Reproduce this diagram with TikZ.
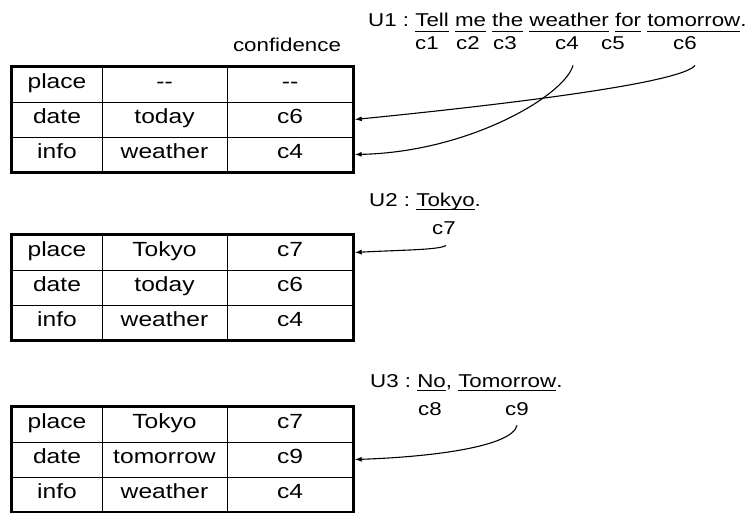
\documentclass[tikz,border=0pt]{standalone}
\usepackage{fontspec}
\usetikzlibrary{arrows.meta}
\newfontfamily\annfont[FakeStretch=1.2]{Liberation Sans}
\newcommand\ulw[2][5.5]{\setbox0\hbox{#2}\rlap{\rule[-#1pt]{\wd0}{1pt}}\box0}
\tikzset{
  cell/.style={draw, line width=0.8pt, minimum height=35pt, inner sep=0pt, text height=0.716em, text depth=0pt,
    font=\annfont\fontsize{20.5}{24}\selectfont},
  ca/.style={cell, minimum width=90pt},
  cb/.style={cell, minimum width=125pt},
  cc/.style={cell, minimum width=126pt},
  frame/.style={line width=2.6pt},
  ann/.style={inner sep=0pt, font=\annfont\fontsize{18.6}{22}\selectfont},
  lbl/.style={ann, anchor=base, inner sep=6pt},
  conn/.style={line width=1.1pt, -{Latex[length=7pt,width=5pt]}},
}
\begin{document}
\begin{tikzpicture}[x=1pt,y=-1pt]
\path[use as bounding box] (0,0) rectangle (753,513);
% ---------- table 1
\node[ca] (t1a1) at (57,84.5) {place};
\node[cb] (t1b1) at (164.5,84.5) {--};
\node[cc] (t1c1) at (290,84.5) {--};
\node[ca] (t1a2) at (57,119.5) {date};
\node[cb] (t1b2) at (164.5,119.5) {today};
\node[cc] (t1c2) at (290,119.5) {c6};
\node[ca] (t1a3) at (57,154.5) {info};
\node[cb] (t1b3) at (164.5,154.5) {weather};
\node[cc] (t1c3) at (290,154.5) {c4};
\draw[frame] (t1a1.north west) rectangle (t1c3.south east);
\node[lbl] (conf) at (287,52) {confidence};
% ---------- table 2
\node[ca] (t2a1) at (57,252.5) {place};
\node[cb] (t2b1) at (164.5,252.5) {Tokyo};
\node[cc] (t2c1) at (290,252.5) {c7};
\node[ca] (t2a2) at (57,287.5) {date};
\node[cb] (t2b2) at (164.5,287.5) {today};
\node[cc] (t2c2) at (290,287.5) {c6};
\node[ca] (t2a3) at (57,322.5) {info};
\node[cb] (t2b3) at (164.5,322.5) {weather};
\node[cc] (t2c3) at (290,322.5) {c4};
\draw[frame] (t2a1.north west) rectangle (t2c3.south east);
% ---------- table 3
\node[ca] (t3a1) at (57,424.5) {place};
\node[cb] (t3b1) at (164.5,424.5) {Tokyo};
\node[cc] (t3c1) at (290,424.5) {c7};
\node[ca] (t3a2) at (57,459.5) {date};
\node[cb] (t3b2) at (164.5,459.5) {tomorrow};
\node[cc] (t3c2) at (290,459.5) {c9};
\node[ca] (t3a3) at (57,494.5) {info};
\node[cb] (t3b3) at (164.5,494.5) {weather};
\node[cc] (t3c3) at (290,494.5) {c4};
\draw[frame] (t3a1.north west) rectangle (t3c3.south east);
% ---------- utterance 1
\node[ann, anchor=base west] (u1) at (368,27) {U1 :\ \ulw{Tell}\ \ulw{me}\ \ulw{the}\ \ulw{weather}\ \ulw{for}\ \ulw{tomorrow}.};
\node[lbl] (k1) at (427,50) {c1};
\node[lbl] (k2) at (468,50) {c2};
\node[lbl] (k3) at (505,50) {c3};
\node[lbl] (k4) at (567,50) {c4};
\node[lbl] (k5) at (613,50) {c5};
\node[lbl] (k6) at (685,50) {c6};
% ---------- utterance 2
\node[ann, anchor=base west] (u2) at (369,207) {U2 :\ \ulw[3.5]{Tokyo}.};
\node[lbl] (k7) at (444,235) {c7};
% ---------- utterance 3
\node[ann, anchor=base west] (u3) at (370,387) {U3 :\ \ulw[3.5]{No},\ \ulw[3.5]{Tomorrow}.};
\node[lbl] (k8) at (430,415) {c8};
\node[lbl] (k9) at (517,415) {c9};
% ---------- connectors
\draw[conn] ([shift={(10,9)}]k6.south) .. controls (680,85) and (470,108) .. ([xshift=1.3pt]t1c2.east);
\draw[conn] ([shift={(6,9)}]k4.south) .. controls (565,95) and (470,152) .. ([xshift=1.3pt]t1c3.east);
\draw[conn] ([shift={(2,4)}]k7.south) .. controls (440,250) and (400,250) .. ([xshift=1.3pt]t2c1.east);
\draw[conn] ([shift={(0,4)}]k9.south) .. controls (512,447) and (430,457) .. ([xshift=1.3pt]t3c2.east);
\end{tikzpicture}
\end{document}
